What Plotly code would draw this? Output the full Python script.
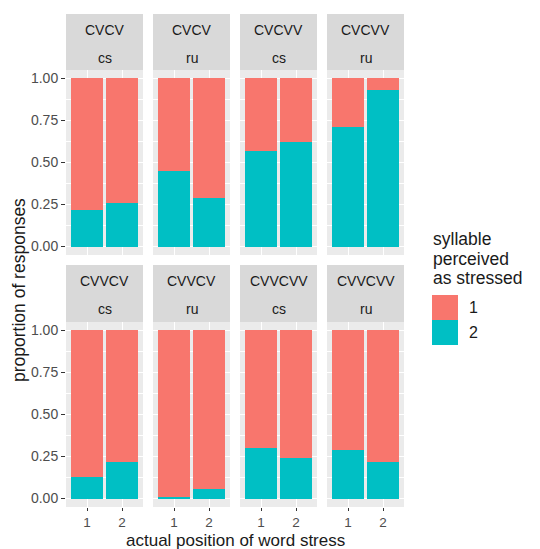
import plotly.graph_objects as go

W, H = 540, 549
FONT = "Liberation Sans"

# facet variables (one entry per panel, row-wise)
syllable_structure = ["CVCV", "CVCV", "CVCVV", "CVCVV", "CVVCV", "CVVCV", "CVVCVV", "CVVCVV"]
language = ["cs", "ru", "cs", "ru", "cs", "ru", "cs", "ru"]
stress_position = [1, 2]
stress_labels = ["1", "2"]

# proportion of responses perceiving syllable 2 as stressed, per panel and stress position
share_syll2 = [
    [0.22, 0.26],
    [0.45, 0.29],
    [0.57, 0.62],
    [0.71, 0.93],
    [0.13, 0.22],
    [0.01, 0.06],
    [0.30, 0.24],
    [0.29, 0.22],
]
share_syll1 = [[round(1 - v, 3) for v in row] for row in share_syll2]

response_levels = ["1", "2"]
response_colors = {"1": "#F8766D", "2": "#00BFC4"}

y_ticks = [0, 0.25, 0.5, 0.75, 1.0]
y_tick_text = ["0.00", "0.25", "0.50", "0.75", "1.00"]

# panel geometry in pixels
col_px = [(66, 143), (153, 230), (240, 317), (327, 404)]
row_px = [(70, 255), (322, 507)]
strip_px = [(14, 70), (265, 322)]


def px_x(v):
    return v / W


def px_y(v):
    return 1 - v / H


fig = go.Figure()
layout = dict(
    width=W, height=H,
    margin=dict(l=0, r=0, t=0, b=0),
    paper_bgcolor="white",
    plot_bgcolor="#EBEBEB",
    barmode="stack",
    bargap=0.1,
    showlegend=False,
    font=dict(family=FONT, color="#1A1A1A"),
)
shapes = []
annotations = []

for i in range(8):
    r, c = divmod(i, 4)
    idx = "" if i == 0 else str(i + 1)
    xref, yref = f"x{idx}", f"y{idx}"

    fig.add_trace(go.Bar(
        x=stress_position, y=share_syll2[i], width=0.9,
        marker=dict(color=response_colors["2"], line=dict(width=0)),
        xaxis=xref, yaxis=yref, name="2",
    ))
    fig.add_trace(go.Bar(
        x=stress_position, y=share_syll1[i], width=0.9,
        marker=dict(color=response_colors["1"], line=dict(width=0)),
        xaxis=xref, yaxis=yref, name="1",
    ))

    x0, x1 = col_px[c]
    y0, y1 = row_px[r]
    layout[f"xaxis{idx}"] = dict(
        domain=[px_x(x0), px_x(x1)], anchor=yref,
        range=[0.4, 2.6], tickvals=stress_position, ticktext=stress_labels,
        showticklabels=(r == 1), ticks="outside" if r == 1 else "",
        ticklen=3, tickwidth=1, tickcolor="#333333",
        tickfont=dict(size=13.5, color="#4D4D4D", family=FONT),
        showgrid=True, gridcolor="white", gridwidth=1.2,
        zeroline=False, showline=False, fixedrange=True,
    )
    layout[f"yaxis{idx}"] = dict(
        domain=[px_y(y1), px_y(y0)], anchor=xref,
        range=[-0.05, 1.05], tickvals=y_ticks, ticktext=y_tick_text,
        showticklabels=(c == 0), ticks="outside" if c == 0 else "",
        ticklen=4, tickwidth=1, tickcolor="#333333",
        tickfont=dict(size=14, color="#4D4D4D", family=FONT),
        showgrid=True, gridcolor="white", gridwidth=1.2,
        minor=dict(tickvals=[0.125, 0.375, 0.625, 0.875], showgrid=True,
                   gridcolor="white", gridwidth=0.6),
        zeroline=False, showline=False, fixedrange=True,
    )

    # facet strip
    s0, s1 = strip_px[r]
    shapes.append(dict(
        type="rect", xref="paper", yref="paper",
        x0=px_x(x0), x1=px_x(x1), y0=px_y(s1), y1=px_y(s0),
        fillcolor="#D9D9D9", line=dict(width=0), layer="below",
    ))
    xc = px_x((x0 + x1) / 2)
    annotations.append(dict(
        text=syllable_structure[i], xref="paper", yref="paper",
        x=xc, y=px_y(s0 + 16), xanchor="center", yanchor="middle",
        showarrow=False, font=dict(size=14, color="#1A1A1A", family=FONT),
    ))
    annotations.append(dict(
        text=language[i], xref="paper", yref="paper",
        x=xc, y=px_y(s0 + 44), xanchor="center", yanchor="middle",
        showarrow=False, font=dict(size=14, color="#1A1A1A", family=FONT),
    ))

# axis titles
annotations.append(dict(
    text="actual position of word stress", xref="paper", yref="paper",
    x=px_x(235), y=px_y(540), xanchor="center", yanchor="middle",
    showarrow=False, font=dict(size=17, color="#1A1A1A", family=FONT),
))
annotations.append(dict(
    text="proportion of responses", xref="paper", yref="paper",
    x=px_x(19), y=px_y(290), xanchor="center", yanchor="middle",
    textangle=-90, showarrow=False,
    font=dict(size=17.5, color="#1A1A1A", family=FONT),
))

# legend
for k, line in enumerate(["syllable", "perceived", "as stressed"]):
    annotations.append(dict(
        text=line, xref="paper", yref="paper",
        x=px_x(431), y=px_y(239 + 19.5 * k), xanchor="left", yanchor="middle",
        showarrow=False, font=dict(size=17.5, color="#1A1A1A", family=FONT),
    ))
for k, lvl in enumerate(response_levels):
    top = 295 + 25 * k
    shapes.append(dict(
        type="rect", xref="paper", yref="paper",
        x0=px_x(432), x1=px_x(458), y0=px_y(top + 25), y1=px_y(top),
        fillcolor=response_colors[lvl], line=dict(width=0),
    ))
    annotations.append(dict(
        text=lvl, xref="paper", yref="paper",
        x=px_x(467), y=px_y(top + 12.5), xanchor="left", yanchor="middle",
        showarrow=False, font=dict(size=16, color="#1A1A1A", family=FONT),
    ))

layout["shapes"] = shapes
layout["annotations"] = annotations
fig.update_layout(**layout)
fig.write_html("out.html")
